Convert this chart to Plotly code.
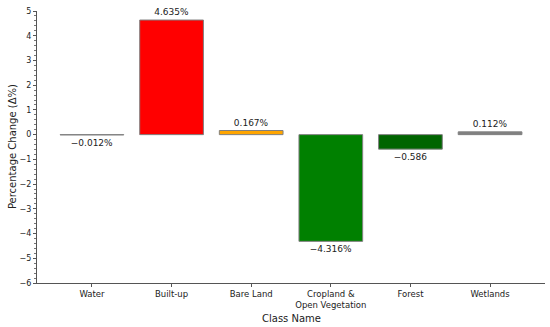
import plotly.graph_objects as go

categories = ["Water", "Built-up", "Bare Land", "Cropland &<br>Open Vegetation", "Forest", "Wetlands"]
values = [-0.012, 4.635, 0.167, -4.316, -0.586, 0.112]
labels = ["\u22120.012%", "4.635%", "0.167%", "\u22124.316%", "\u22120.586", "0.112%"]
colors = ["#808080", "#ff0000", "#ffa500", "#008000", "#006400", "#808080"]
y_ticks = [-6, -5, -4, -3, -2, -1, 0, 1, 2, 3, 4, 5]

FONT = "DejaVu Sans"

fig = go.Figure()
fig.add_trace(go.Bar(
    x=list(range(len(categories))),
    y=values,
    width=0.8,
    marker=dict(color=colors, line=dict(color="#808080", width=1)),
    text=labels,
    textposition="outside",
    textfont=dict(family=FONT, size=9, color="#222"),
    cliponaxis=False,
))

fig.update_layout(
    width=550, height=327,
    margin=dict(l=37, r=5, t=11, b=44),
    plot_bgcolor="white", paper_bgcolor="white",
    showlegend=False,
    font=dict(family=FONT, color="#222"),
    bargap=0.2,
    annotations=[
        dict(text="Class Name", xref="paper", yref="paper", x=0.5, y=-0.13,
             xanchor="center", yanchor="middle", showarrow=False,
             font=dict(size=10, family=FONT, color="#222")),
        dict(text="Percentage Change (\u0394%)", xref="paper", yref="paper",
             x=-0.049, y=0.5, xanchor="center", yanchor="middle", textangle=-90,
             showarrow=False, font=dict(size=10, family=FONT, color="#222")),
    ],
)
fig.update_xaxes(
    range=[-0.69, 5.69],
    tickvals=list(range(len(categories))),
    ticktext=categories,
    tickfont=dict(size=8.5, family=FONT),
    ticks="outside", ticklen=3, tickcolor="#555",
    showline=True, linecolor="#555", linewidth=1,
    showgrid=False, zeroline=False, automargin=False,
)
fig.update_yaxes(
    range=[-6, 5],
    tickvals=y_ticks,
    ticktext=[str(v).replace("-", "\u2212") for v in y_ticks],
    tickfont=dict(size=8, family=FONT),
    ticks="outside", ticklen=3, tickcolor="#555",
    minor=dict(dtick=0.2, ticks="outside", ticklen=2, tickcolor="#777", showgrid=False),
    showline=True, linecolor="#555", linewidth=1,
    showgrid=False, zeroline=False, automargin=False,
)

fig.write_html("out.html", config={"displayModeBar": False},
               post_script="document.body.style.margin='0';")
